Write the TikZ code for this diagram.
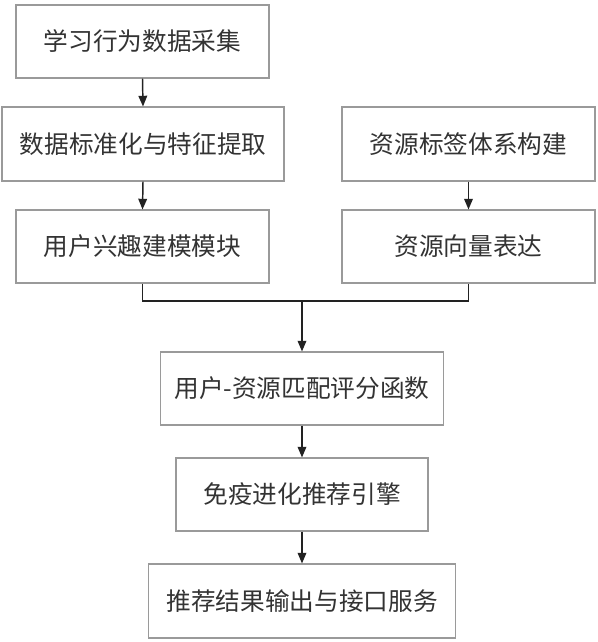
\documentclass[tikz,border=0pt]{standalone}
\usepackage{fontspec}
\newfontfamily\cjk{Noto Sans CJK SC}
\usetikzlibrary{arrows.meta}
\definecolor{boxline}{HTML}{9A9A9A}
\definecolor{txt}{HTML}{333333}
\definecolor{arr}{HTML}{222222}
\tikzset{
  box/.style={draw=boxline, line width=0.8pt, fill=white, inner sep=0pt,
    font=\cjk\fontsize{18.5pt}{20pt}\selectfont, text=txt},
  conn/.style={draw=arr, line width=1.1pt},
  arrowline/.style={conn, -{Triangle[length=8pt,width=6.5pt]}}
}
\begin{document}
\begin{tikzpicture}[x=0.75pt,y=-0.75pt]
\useasboundingbox (0,0) rectangle (597,642);
\node[box, minimum width={253*0.75pt}, minimum height={73*0.75pt}] (b1) at (142.5,41.5) {学习行为数据采集};
\node[box, minimum width={282*0.75pt}, minimum height={74*0.75pt}] (b2) at (143,144) {数据标准化与特征提取};
\node[box, minimum width={253*0.75pt}, minimum height={74*0.75pt}] (b3) at (468.5,144) {资源标签体系构建};
\node[box, minimum width={253*0.75pt}, minimum height={73*0.75pt}] (b4) at (142.5,246.5) {用户兴趣建模模块};
\node[box, minimum width={253*0.75pt}, minimum height={73*0.75pt}] (b5) at (468.5,246.5) {资源向量表达};
\node[box, minimum width={283*0.75pt}, minimum height={73*0.75pt}] (b6) at (302,388.5) {用户-资源匹配评分函数};
\node[box, minimum width={252*0.75pt}, minimum height={73*0.75pt}] (b7) at (302,494.5) {免疫进化推荐引擎};
\node[box, minimum width={307*0.75pt}, minimum height={74*0.75pt}] (b8) at (302,601) {推荐结果输出与接口服务};
\coordinate (j) at (302,301);
\draw[arrowline] (b1.south) -- (b2.north);
\draw[arrowline] (b2.south) -- (b4.north);
\draw[arrowline] (b3.south) -- (b5.north);
\draw[conn] (b4.south) |- (j) -| (b5.south);
\draw[arrowline] (j) -- (b6.north);
\draw[arrowline] (b6.south) -- (b7.north);
\draw[arrowline] (b7.south) -- (b8.north);
\end{tikzpicture}
\end{document}
